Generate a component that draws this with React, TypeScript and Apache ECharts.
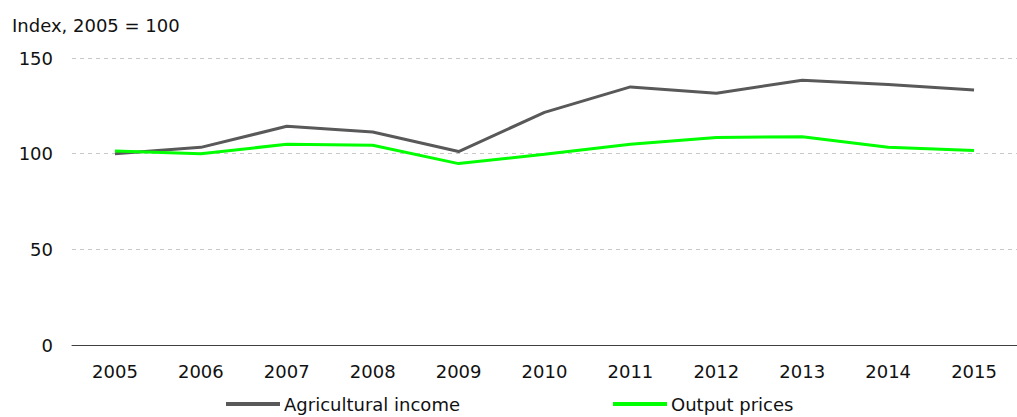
import React, { useEffect, useRef } from "react";
import * as echarts from "echarts";

const years = ["2005", "2006", "2007", "2008", "2009", "2010", "2011", "2012", "2013", "2014", "2015"];
const agriculturalIncome = [100, 103.3, 114.3, 111.3, 101.1, 121.6, 134.9, 131.6, 138.4, 136.1, 133.3];
const outputPrices = [101.4, 100, 104.9, 104.4, 94.8, 99.7, 104.9, 108.5, 108.9, 103.3, 101.6];
const yTicks = { min: 0, max: 150, interval: 50 };

const FONT = "Verdana, 'DejaVu Sans', sans-serif";
const TXT = "#111111";

export default function App() {
  const ref = useRef<HTMLDivElement>(null);
  useEffect(() => {
    if (!ref.current) return;
    const chart = echarts.init(ref.current, undefined, { renderer: "svg" });
    const legendCommon = {
      top: 395,
      padding: 0,
      icon: "rect",
      itemWidth: 54,
      itemHeight: 4,
      itemGap: 0,
      textStyle: { fontFamily: FONT, fontSize: 18, color: TXT, padding: [0, 0, 0, -1] },
    };
    chart.setOption({
      animation: false,
      backgroundColor: "#ffffff",
      title: {
        text: "Index, 2005 = 100",
        left: 7,
        top: 11,
        padding: 5,
        textStyle: { fontFamily: FONT, fontSize: 18, fontWeight: "normal", color: TXT },
      },
      grid: { left: 72, width: 960, top: 58, bottom: 72, containLabel: false },
      legend: [
        { ...legendCommon, data: ["Agricultural income"], left: 226 },
        { ...legendCommon, data: ["Output prices"], left: 613 },
      ],
      xAxis: {
        type: "category",
        data: years,
        boundaryGap: true,
        axisLine: { show: true, lineStyle: { color: "#404040", width: 1 } },
        axisTick: { show: false },
        axisLabel: { fontFamily: FONT, fontSize: 18, color: TXT, margin: 17 },
        splitLine: { show: false },
      },
      yAxis: {
        type: "value",
        min: yTicks.min,
        max: yTicks.max,
        interval: yTicks.interval,
        axisLine: { show: false },
        axisTick: { show: false },
        axisLabel: { fontFamily: FONT, fontSize: 18, color: TXT, margin: 19 },
        splitLine: { show: true, lineStyle: { color: "#c8c8c8", type: [4, 4], width: 1 } },
      },
      series: [
        {
          name: "Agricultural income",
          type: "line",
          data: agriculturalIncome,
          symbol: "none",
          color: "#595959",
          lineStyle: { color: "#595959", width: 3 },
          z: 2,
        },
        {
          name: "Output prices",
          type: "line",
          data: outputPrices,
          symbol: "none",
          color: "#00ff00",
          lineStyle: { color: "#00ff00", width: 3 },
          z: 3,
        },
      ],
    });
    return () => chart.dispose();
  }, []);
  return (
    <div
      ref={ref}
      style={{ position: "fixed", left: 0, top: 0, width: 1017, height: 417 }}
    />
  );
}
